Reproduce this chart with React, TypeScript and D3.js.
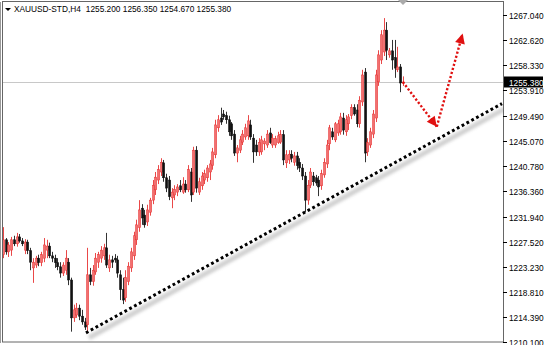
import React from "react";
import * as d3 from "d3";

const symbolTitle = "XAUUSD-STD,H4";
const headerValues = ["1255.200", "1256.350", "1254.670", "1255.380"];
const priceTicks = [1267.04, 1262.62, 1258.33, 1253.91, 1249.49, 1245.07, 1240.78, 1236.36, 1231.94, 1227.52, 1223.23, 1218.81, 1214.39, 1210.1];
const currentPrice = 1255.38;
const priceDomain = [1210.1, 1267.04];

// [open, high, low, close]
const candles: [number, number, number, number][] = [
  [1225.3, 1230.1, 1224.7, 1227.9], [1227.9, 1228.2, 1225.3, 1225.8], [1225.8, 1227.5, 1224.9, 1227.0], [1226.1, 1228.4, 1225.1, 1227.9],
  [1227.9, 1228.6, 1226.8, 1227.2], [1227.2, 1229.1, 1226.7, 1228.4], [1228.4, 1228.9, 1227.4, 1227.7], [1227.7, 1228.2, 1226.8, 1227.2],
  [1226.1, 1228.0, 1225.4, 1227.5], [1227.5, 1227.9, 1225.4, 1226.0], [1226.0, 1226.5, 1222.6, 1224.0], [1223.0, 1224.7, 1220.4, 1224.0],
  [1223.5, 1225.1, 1223.0, 1224.7], [1224.7, 1225.3, 1223.3, 1223.9], [1223.9, 1225.8, 1223.3, 1225.3], [1224.7, 1228.2, 1224.0, 1227.0],
  [1226.1, 1227.9, 1224.7, 1226.8], [1226.8, 1227.4, 1224.7, 1225.1], [1225.1, 1225.8, 1224.0, 1224.7], [1224.7, 1225.3, 1223.0, 1223.9],
  [1223.9, 1224.7, 1222.6, 1223.2], [1223.2, 1224.0, 1221.3, 1222.1], [1222.1, 1224.0, 1221.6, 1223.5], [1222.6, 1226.1, 1221.8, 1224.7],
  [1224.0, 1224.7, 1220.0, 1220.9], [1220.9, 1221.3, 1211.9, 1214.3], [1214.3, 1216.6, 1213.6, 1215.7], [1214.8, 1216.9, 1214.3, 1216.0],
  [1216.0, 1216.6, 1213.9, 1214.6], [1214.6, 1215.7, 1213.1, 1213.6], [1213.6, 1214.3, 1212.2, 1212.7], [1213.1, 1226.5, 1211.7, 1221.8],
  [1221.8, 1223.0, 1220.0, 1220.6], [1220.6, 1223.5, 1219.9, 1222.6], [1222.3, 1225.6, 1221.8, 1224.7], [1224.0, 1225.8, 1223.0, 1225.3],
  [1224.7, 1226.8, 1223.9, 1226.1], [1225.1, 1227.2, 1224.4, 1226.5], [1226.5, 1229.1, 1223.0, 1223.5], [1223.0, 1225.3, 1222.3, 1224.4],
  [1224.4, 1225.1, 1223.0, 1224.0], [1224.7, 1225.4, 1223.9, 1224.4], [1224.4, 1225.1, 1221.3, 1222.1], [1221.8, 1222.6, 1217.4, 1219.2],
  [1219.2, 1221.3, 1216.7, 1217.4], [1217.8, 1222.6, 1217.1, 1221.3], [1220.6, 1224.0, 1220.0, 1223.3], [1223.0, 1226.5, 1222.3, 1225.8],
  [1225.1, 1229.3, 1224.4, 1228.6], [1227.9, 1231.4, 1227.0, 1230.5], [1230.0, 1234.8, 1229.3, 1233.1], [1233.4, 1234.1, 1230.5, 1231.7],
  [1232.2, 1233.1, 1230.0, 1230.5], [1231.0, 1234.0, 1230.3, 1233.1], [1232.7, 1235.2, 1232.1, 1234.8], [1234.8, 1238.3, 1234.1, 1237.4],
  [1236.6, 1239.7, 1235.7, 1238.8], [1238.3, 1240.9, 1237.6, 1240.1], [1239.7, 1242.1, 1239.0, 1241.4], [1241.3, 1241.8, 1238.0, 1238.7],
  [1238.7, 1239.4, 1236.2, 1236.9], [1238.3, 1239.0, 1234.8, 1235.4], [1235.2, 1236.9, 1233.4, 1236.2], [1235.7, 1237.4, 1234.8, 1236.7],
  [1236.2, 1237.6, 1235.5, 1237.1], [1237.3, 1238.3, 1236.2, 1236.6], [1236.2, 1238.8, 1235.9, 1237.6], [1237.6, 1238.3, 1236.1, 1236.6],
  [1236.6, 1240.9, 1236.2, 1240.1], [1239.7, 1240.4, 1234.5, 1235.7], [1236.2, 1244.1, 1235.7, 1243.5], [1243.5, 1244.2, 1236.1, 1236.9],
  [1236.2, 1238.7, 1235.7, 1238.0], [1237.3, 1239.7, 1236.6, 1239.0], [1238.3, 1240.1, 1237.6, 1239.4], [1238.7, 1240.9, 1238.0, 1240.4],
  [1239.7, 1241.8, 1238.3, 1241.1], [1240.8, 1243.9, 1240.1, 1243.2], [1242.7, 1248.8, 1242.1, 1247.9], [1247.4, 1249.6, 1246.7, 1248.8],
  [1249.1, 1250.9, 1247.9, 1248.4], [1249.8, 1250.5, 1248.8, 1249.3], [1249.5, 1250.2, 1248.1, 1248.8], [1248.8, 1249.5, 1246.0, 1246.7],
  [1248.1, 1248.4, 1245.3, 1246.0], [1246.3, 1247.0, 1242.5, 1243.0], [1243.0, 1244.4, 1241.4, 1243.9], [1243.5, 1246.0, 1243.0, 1245.3],
  [1244.9, 1247.0, 1244.4, 1246.3], [1245.8, 1248.1, 1245.3, 1247.4], [1246.0, 1249.6, 1245.3, 1248.6], [1247.9, 1248.8, 1245.3, 1245.8],
  [1245.6, 1246.3, 1241.3, 1243.2], [1244.4, 1245.3, 1242.5, 1243.2], [1243.2, 1245.6, 1242.5, 1244.8], [1243.2, 1246.0, 1242.7, 1245.3],
  [1244.6, 1245.6, 1243.5, 1245.1], [1244.4, 1247.0, 1243.9, 1246.3], [1246.5, 1247.4, 1244.6, 1244.8], [1244.4, 1246.3, 1243.9, 1245.6],
  [1244.4, 1246.0, 1243.9, 1245.5], [1244.8, 1246.7, 1244.6, 1246.0], [1244.9, 1247.0, 1244.6, 1246.2], [1246.2, 1247.0, 1240.9, 1241.8],
  [1241.3, 1243.5, 1240.4, 1242.7], [1241.8, 1243.5, 1241.1, 1242.8], [1242.8, 1243.5, 1241.4, 1242.1], [1241.4, 1243.2, 1240.8, 1242.5],
  [1242.5, 1243.2, 1240.1, 1240.8], [1241.4, 1242.1, 1239.7, 1240.4], [1240.4, 1241.1, 1238.3, 1239.0], [1239.0, 1239.7, 1232.7, 1234.8],
  [1234.8, 1238.3, 1234.0, 1237.4], [1237.4, 1240.4, 1236.9, 1239.7], [1239.0, 1239.7, 1237.3, 1238.0], [1238.7, 1239.2, 1237.3, 1237.8],
  [1238.3, 1239.0, 1235.5, 1237.1], [1237.3, 1240.1, 1236.6, 1239.4], [1239.2, 1242.1, 1238.7, 1241.4], [1241.1, 1245.3, 1240.4, 1244.4],
  [1244.6, 1247.9, 1243.5, 1247.4], [1246.7, 1247.4, 1245.3, 1245.8], [1245.3, 1248.4, 1244.9, 1248.1], [1246.5, 1248.8, 1246.0, 1248.1],
  [1246.7, 1250.0, 1246.2, 1249.3], [1249.1, 1250.0, 1246.2, 1247.0], [1246.7, 1249.6, 1246.0, 1248.8], [1248.1, 1249.8, 1247.0, 1249.3],
  [1249.5, 1251.5, 1248.9, 1250.9], [1250.9, 1251.5, 1249.5, 1249.8], [1250.5, 1251.5, 1247.5, 1248.1], [1248.1, 1252.9, 1247.4, 1252.2],
  [1251.9, 1257.5, 1251.2, 1256.6], [1257.1, 1257.8, 1241.4, 1243.0], [1243.2, 1245.6, 1242.5, 1244.8], [1244.4, 1247.4, 1243.9, 1246.7],
  [1246.3, 1250.5, 1245.6, 1249.8], [1249.1, 1257.5, 1248.4, 1256.6], [1255.4, 1260.9, 1254.7, 1260.1], [1259.2, 1264.4, 1258.5, 1263.6],
  [1260.6, 1266.5, 1259.9, 1264.4], [1264.4, 1265.8, 1259.2, 1260.9], [1260.1, 1261.3, 1259.6, 1260.8], [1260.8, 1262.7, 1257.5, 1259.2],
  [1259.6, 1262.7, 1256.1, 1257.8], [1257.5, 1261.5, 1257.1, 1258.0], [1258.0, 1258.5, 1253.6, 1255.2], [1255.2, 1256.35, 1254.67, 1255.38],
];

// trendline anchors: [bar index, price]
const trendAnchors: [number, number][] = [[30.5, 1211.7], [111, 1232.7]];
// forecast arrow path: [bar index, price]
const forecastPath: [number, number][] = [[147, 1255.38], [159.5, 1247.6], [169, 1263.8]];

const W = 544, H = 345;
const PL = 2, PR = 503, PT = 2, PB = 342;

function arrowHead(px: number, py: number, fx: number, fy: number, len = 10, half = 5) {
  const dx = px - fx, dy = py - fy;
  const d = Math.hypot(dx, dy);
  const ux = dx / d, uy = dy / d;
  const bx = px - ux * len, by = py - uy * len;
  return `M${px},${py}L${bx - uy * half},${by + ux * half}L${bx + uy * half},${by - ux * half}Z`;
}

export default function App() {
  const x = d3.scaleLinear().domain([0, candles.length - 1]).range([3, 402.8]);
  const y = d3.scaleLinear().domain(priceDomain).range([PB, 15]);

  const t1 = [x(trendAnchors[0][0]), y(trendAnchors[0][1])];
  const t2 = [x(trendAnchors[1][0]), y(trendAnchors[1][1])];
  const slope = (t2[1] - t1[1]) / (t2[0] - t1[0]);
  const tEnd = [PR - 1, t1[1] + slope * (PR - 1 - t1[0])];

  const fpts = forecastPath.map(([i, p]) => [x(i), y(p)] as [number, number]);
  const line = d3.line();
  const seg1 = line([fpts[0], fpts[1]]) as string;
  const seg2 = line([fpts[1], fpts[2]]) as string;

  const cy = y(currentPrice);
  const font = "'Liberation Sans', Arial, sans-serif";

  return (
    <svg width={W} height={H} style={{ position: "fixed", left: 0, top: 0, background: "#fff" }}>
      <defs>
        <filter id="blur" x="-10%" y="-50%" width="120%" height="200%">
          <feGaussianBlur stdDeviation="1.6" />
        </filter>
        <clipPath id="plot">
          <rect x={PL} y={PT} width={PR - PL} height={PB - PT} />
        </clipPath>
      </defs>
      <rect x={0} y={0} width={W} height={H} fill="#fff" />

      {/* current price line */}
      <line x1={PL} x2={PR} y1={Math.round(cy) + 0.5} y2={Math.round(cy) + 0.5} stroke="#c8c8c8" strokeWidth={1} />

      {/* candles */}
      <g clipPath="url(#plot)">
        {candles.map(([o, h, l, c], i) => {
          const cx = Math.round(x(i)) + 0.5;
          const bull = c >= o;
          const top = y(Math.max(o, c));
          const bot = y(Math.min(o, c));
          const col = bull ? "#e63030" : "#111";
          return (
            <g key={i}>
              <line x1={cx} x2={cx} y1={y(h)} y2={y(l)} stroke={bull ? "#ea4848" : "#333"} strokeWidth={1} />
              <rect x={cx - 1} y={top} width={2.2} height={Math.max(1, bot - top)} fill={bull ? "#f27070" : "#111"} stroke={col} strokeWidth={0.5} />
            </g>
          );
        })}
      </g>

      {/* trendline shadow + dotted trendline */}
      <g clipPath="url(#plot)">
        <line x1={t1[0] + 3} y1={t1[1] + 5} x2={tEnd[0] + 3} y2={tEnd[1] + 5} stroke="#9a9a9a" strokeWidth={5} opacity={0.45} filter="url(#blur)" />
        <line x1={t1[0]} y1={t1[1]} x2={tEnd[0]} y2={tEnd[1]} stroke="#000" strokeWidth={3} strokeDasharray="2.8 2.7" />
      </g>

      {/* forecast arrows */}
      <path d={seg1} stroke="#e01010" strokeWidth={2.4} strokeDasharray="2.2 2" fill="none" />
      <path d={seg2} stroke="#e01010" strokeWidth={2.4} strokeDasharray="2.2 2" fill="none" />
      <path d={arrowHead(fpts[1][0], fpts[1][1], fpts[0][0], fpts[0][1])} fill="#e01010" />
      <path d={arrowHead(fpts[2][0], fpts[2][1], fpts[1][0], fpts[1][1])} fill="#e01010" />

      {/* frame */}
      <rect x={PL + 0.5} y={PT - 0.5} width={PR - PL} height={PB - PT + 0.5} fill="none" stroke="#666" strokeWidth={1} />
      <line x1={0.5} x2={0.5} y1={PT} y2={PB + 1} stroke="#999" />
      <path d={`M398,0L408,0L403,5Z`} fill="#aaa" />

      {/* right axis */}
      {priceTicks.map((p) => {
        const ty = Math.round(y(p)) + 0.5;
        return (
          <g key={p}>
            <line x1={PR} x2={PR + 4} y1={ty} y2={ty} stroke="#000" />
            <text x={PR + 6} y={ty + 3} fontSize={8.3} fontFamily={font} fill="#000">{p.toFixed(3)}</text>
          </g>
        );
      })}
      <rect x={PR + 1} y={Math.round(cy) - 5.5} width={39} height={11} fill="#000" />
      <text x={PR + 6} y={Math.round(cy) + 3.5} fontSize={8.3} fontFamily={font} fill="#fff">{currentPrice.toFixed(3)}</text>

      {/* header */}
      <path d="M5,8L11,8L8,11Z" fill="#000" />
      <text x={14} y={12} fontSize={8.3} fontFamily={font} fill="#000">
        {symbolTitle}
        <tspan dx={5}>{headerValues.join(" ")}</tspan>
      </text>
    </svg>
  );
}
